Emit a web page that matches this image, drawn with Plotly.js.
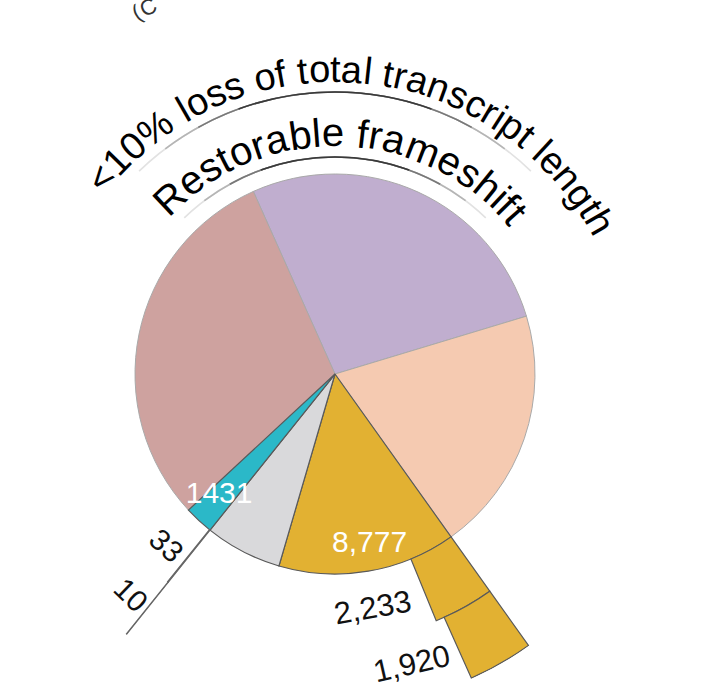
<!DOCTYPE html>
<html>
<head>
<meta charset="utf-8">
<script src="https://cdn.plot.ly/plotly-3.0.1.min.js"></script>
<style>
  html, body { margin: 0; padding: 0; overflow: hidden; background: #fff; height: 690px; }
  #chart { width: 721px; height: 720px; }
</style>
</head>
<body>
<div id="chart"></div>
<script>
(function () {
  'use strict';

  // Main pie, clockwise from the upper-left boundary
  var sliceNames = ['purple', 'peach', 'restorable', 'grey', 'cyan', 'pink'];
  var sliceValues = [16500, 12100, 8777, 3800, 1431, 18450];
  var sliceColors = ['#c0aecf', '#f5cab1', '#e2b132', '#d9d9db', '#2bb8c8', '#cea29f'];
  var startAngle = 335.9;

  // Pieces stacked outside the gold and cyan slices
  var goldSubValues = [2233, 1920];
  var goldSubLabels = ['2,233', '1,920'];
  var cyanSubValues = [33, 10];
  var cyanSubLabels = ['33', '10'];

  var insideLabels = ['8,777', '1431'];
  var outerTitle = '<10% loss of total transcript length';
  var innerTitle = 'Restorable frameshift';
  var cutTitle = '(C';

  var fontFamily = '"Liberation Sans", Arial, sans-serif';

  // Page geometry: pie radius 1 = 200px, centre at (335, 374)
  var W = 721, H = 720, CX = 335, CY = 374, UNIT = 200, RMAX = 1.67;
  var half = RMAX * UNIT;
  var dom = {
    x: [(CX - half) / W, (CX + half) / W],
    y: [(H - CY - half) / H, (H - CY + half) / H]
  };
  var RING = 1 / 3;

  function toPaper(r, deg) {
    var a = deg * Math.PI / 180;
    var cx = (dom.x[0] + dom.x[1]) / 2, cy = (dom.y[0] + dom.y[1]) / 2;
    var hx = (dom.x[1] - dom.x[0]) / 2, hy = (dom.y[1] - dom.y[0]) / 2;
    return { x: cx + r / RMAX * hx * Math.sin(a), y: cy + r / RMAX * hy * Math.cos(a) };
  }

  // slice angles
  var total = sliceValues.reduce(function (s, v) { return s + v; }, 0);
  var starts = [], widths = [], centers = [];
  var acc = startAngle;
  sliceValues.forEach(function (v) {
    var w = v / total * 360;
    starts.push(acc); widths.push(w); centers.push(acc + w / 2);
    acc += w;
  });

  function pick(arr, idx) { return idx.map(function (i) { return arr[i]; }); }
  var lightIdx = [0, 1, 5];
  var darkIdx = [2, 3, 4];

  function sliceTrace(idx, edge, ew) {
    return {
      type: 'barpolar',
      r: idx.map(function () { return 1; }),
      theta: pick(centers, idx),
      width: pick(widths, idx),
      base: idx.map(function () { return 0; }),
      text: pick(sliceNames, idx),
      marker: { color: pick(sliceColors, idx), line: { color: edge, width: ew } },
      hoverinfo: 'skip'
    };
  }

  function stackTrace(values, sliceIndex, color, edge) {
    var ws = values.map(function (v) { return v / total * 360; });
    return {
      type: 'barpolar',
      r: values.map(function () { return RING; }),
      base: values.map(function (_, i) { return 1 + i * RING; }),
      theta: ws.map(function (w) { return starts[sliceIndex] + w / 2; }),
      width: ws,
      marker: { color: color, line: { color: edge, width: 1.2 } },
      hoverinfo: 'skip'
    };
  }

  // fading title arcs
  function arcTrace(r) {
    var spans = [88, 74, 58, 40];
    var shades = ['#e2e2e2', '#b5b5b5', '#787878', '#3a3a3a'];
    return {
      type: 'barpolar',
      r: spans.map(function () { return 0.008; }),
      base: spans.map(function () { return r - 0.004; }),
      theta: spans.map(function () { return 0; }),
      width: spans,
      marker: { color: shades, line: { width: 0 } },
      hoverinfo: 'skip'
    };
  }

  var traces = [
    sliceTrace(lightIdx, '#a9a9a9', 1),
    sliceTrace(darkIdx, '#5a5a5a', 1.2),
    stackTrace(goldSubValues, 2, sliceColors[2], '#5a5a5a'),
    stackTrace(cyanSubValues, 4, '#666666', '#666666'),
    arcTrace(1.41),
    arcTrace(1.085),
    {
      type: 'scatterpolar',
      mode: 'text',
      r: [0.868, 0.84],
      theta: [168.5, 223.6],
      text: insideLabels,
      textposition: 'middle center',
      textfont: { family: fontFamily, size: 30, color: '#ffffff' },
      hoverinfo: 'skip'
    }
  ];

  var annotations = [];

  function addLabel(text, r, deg, angle, size) {
    var p = toPaper(r, deg);
    annotations.push({
      xref: 'paper', yref: 'paper', x: p.x, y: p.y,
      text: text, showarrow: false, textangle: angle,
      xanchor: 'center', yanchor: 'middle',
      font: { family: fontFamily, size: size, color: '#111111' }
    });
  }

  addLabel(goldSubLabels[0], 1.185, 170.8, -10, 31);
  addLabel(goldSubLabels[1], 1.50, 165.1, -13, 31);
  addLabel(cyanSubLabels[0], 1.20, 224.5, 42, 30);
  addLabel(cyanSubLabels[1], 1.506, 222.8, 44, 30);

  // text along an arc, one annotation per character
  function curvedText(text, rCenter, firstDeg, lastDeg, size, color) {
    var ctx = document.createElement('canvas').getContext('2d');
    ctx.font = size + 'px ' + fontFamily;
    var chars = Array.from(text);
    var pos = [], run = 0;
    chars.forEach(function (c) {
      var w = ctx.measureText(c).width;
      pos.push(run + w / 2);
      run += w;
    });
    var degPerPx = lastDeg == null
      ? 180 / (Math.PI * (rCenter * UNIT - size * 0.35))
      : (lastDeg - firstDeg) / (pos[pos.length - 1] - pos[0]);
    chars.forEach(function (c, i) {
      if (c === ' ') return;
      var deg = firstDeg + (pos[i] - pos[0]) * degPerPx;
      var p = toPaper(rCenter, deg);
      annotations.push({
        xref: 'paper', yref: 'paper', x: p.x, y: p.y,
        text: c.replace('<', '&lt;'), showarrow: false, textangle: deg,
        xanchor: 'center', yanchor: 'middle',
        font: { family: fontFamily, size: size, color: color }
      });
    });
  }

  curvedText(outerTitle, 1.525, -50.0, 60.2, 38, '#000000');
  curvedText(innerTitle, 1.21, -43.2, 48.5, 40, '#000000');
  curvedText(cutTitle, 2.06, -28.7, null, 22, '#333333');

  var layout = {
    width: W,
    height: H,
    margin: { t: 0, r: 0, b: 0, l: 0 },
    paper_bgcolor: '#ffffff',
    showlegend: false,
    font: { family: fontFamily },
    polar: {
      domain: dom,
      bgcolor: '#ffffff',
      bargap: 0,
      radialaxis: { visible: false, range: [0, RMAX] },
      angularaxis: { visible: false, rotation: 90, direction: 'clockwise' }
    },
    annotations: annotations
  };

  Plotly.newPlot('chart', traces, layout, { displayModeBar: false, staticPlot: true });
})();
</script>
</body>
</html>
